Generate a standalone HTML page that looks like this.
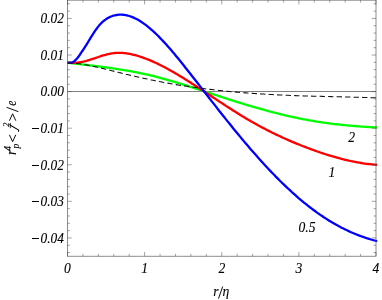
<!DOCTYPE html>
<html><head><meta charset="utf-8"><style>
html,body{margin:0;padding:0;background:#fff;}
svg{display:block;will-change:transform;}
text{font-family:"Liberation Serif",serif;font-style:italic;font-size:13.6px;fill:#000;stroke:#000;stroke-width:0.1px;}
</style></head><body>
<svg width="382" height="300" viewBox="0 0 382 300">
<rect width="382" height="300" fill="#fff"/>
<path d="M67.5,91.5H376.0" stroke="#808080" stroke-width="1" fill="none"/>
<path d="M67.5,62.70 L68.3,62.79 L69.1,62.89 L69.9,62.99 L70.7,63.08 L71.5,63.18 L72.2,63.27 L73.0,63.37 L73.8,63.46 L74.6,63.56 L75.4,63.65 L76.2,63.74 L77.0,63.84 L77.8,63.93 L78.6,64.03 L79.4,64.12 L80.2,64.21 L80.9,64.31 L81.7,64.40 L82.5,64.49 L83.3,64.59 L84.1,64.68 L84.9,64.78 L85.7,64.87 L86.5,64.96 L87.3,65.06 L88.1,65.15 L88.9,65.25 L89.7,65.34 L90.4,65.44 L91.2,65.53 L92.0,65.63 L92.8,65.73 L93.6,65.82 L94.4,65.92 L95.2,66.02 L96.0,66.12 L96.8,66.21 L97.6,66.31 L98.4,66.41 L99.1,66.51 L99.9,66.61 L100.7,66.71 L101.5,66.82 L102.3,66.92 L103.1,67.02 L103.9,67.13 L104.7,67.23 L105.5,67.34 L106.3,67.44 L107.1,67.55 L107.8,67.66 L108.6,67.77 L109.4,67.88 L110.2,67.99 L111.0,68.10 L111.8,68.21 L112.6,68.33 L113.4,68.44 L114.2,68.55 L115.0,68.67 L115.8,68.79 L116.6,68.91 L117.3,69.03 L118.1,69.15 L118.9,69.27 L119.7,69.39 L120.5,69.52 L121.3,69.64 L122.1,69.77 L122.9,69.90 L123.7,70.03 L124.5,70.16 L125.3,70.29 L126.0,70.42 L126.8,70.56 L127.6,70.69 L128.4,70.83 L129.2,70.97 L130.0,71.11 L131.8,71.43 L133.6,71.76 L135.3,72.10 L137.1,72.45 L138.9,72.80 L140.7,73.16 L142.4,73.54 L144.2,73.92 L146.0,74.31 L147.8,74.71 L149.6,75.13 L151.3,75.55 L153.1,75.98 L154.9,76.43 L156.7,76.88 L158.5,77.34 L160.2,77.81 L162.0,78.29 L163.8,78.78 L165.6,79.28 L167.3,79.78 L169.1,80.29 L170.9,80.81 L172.7,81.33 L174.5,81.86 L176.2,82.40 L178.0,82.94 L179.8,83.48 L181.6,84.04 L183.4,84.59 L185.1,85.15 L186.9,85.71 L188.7,86.28 L190.5,86.85 L192.2,87.42 L194.0,88.00 L195.8,88.57 L197.6,89.15 L199.4,89.73 L201.1,90.31 L202.9,90.89 L204.7,91.47 L206.5,92.05 L208.3,92.63 L210.0,93.21 L211.8,93.79 L213.6,94.37 L215.4,94.95 L217.1,95.53 L218.9,96.11 L220.7,96.69 L222.5,97.26 L224.3,97.83 L226.0,98.41 L227.8,98.98 L229.6,99.54 L231.4,100.11 L233.1,100.67 L234.9,101.23 L236.7,101.79 L238.5,102.34 L240.3,102.90 L242.0,103.44 L243.8,103.99 L245.6,104.53 L247.4,105.07 L249.2,105.60 L250.9,106.13 L252.7,106.65 L254.5,107.17 L256.3,107.68 L258.0,108.19 L259.8,108.70 L261.6,109.20 L263.4,109.69 L265.2,110.18 L266.9,110.67 L268.7,111.14 L270.5,111.62 L272.3,112.08 L274.1,112.55 L275.8,113.00 L277.6,113.45 L279.4,113.89 L281.2,114.33 L282.9,114.76 L284.7,115.19 L286.5,115.60 L288.3,116.01 L290.1,116.42 L291.8,116.81 L293.6,117.20 L295.4,117.59 L297.2,117.96 L298.9,118.33 L300.7,118.69 L302.5,119.04 L304.3,119.38 L306.1,119.72 L307.8,120.05 L309.6,120.37 L311.4,120.68 L313.2,120.98 L315.0,121.28 L316.7,121.57 L318.5,121.85 L320.3,122.12 L322.1,122.38 L323.8,122.64 L325.6,122.89 L327.4,123.13 L329.2,123.37 L331.0,123.59 L332.7,123.82 L334.5,124.03 L336.3,124.24 L338.1,124.44 L339.9,124.64 L341.6,124.83 L343.4,125.01 L345.2,125.19 L347.0,125.36 L348.7,125.52 L350.5,125.68 L352.3,125.84 L354.1,125.99 L355.9,126.13 L357.6,126.27 L359.4,126.40 L361.2,126.53 L363.0,126.66 L364.8,126.78 L366.5,126.89 L368.3,127.00 L370.1,127.11 L371.9,127.21 L373.6,127.31 L375.4,127.41 L377.2,127.50" stroke="#00ff00" stroke-width="2.3" fill="none" stroke-linejoin="round"/>
<path d="M67.5,62.76 L68.3,62.77 L69.1,62.78 L69.9,62.79 L70.7,62.80 L71.5,62.81 L72.2,62.80 L73.0,62.79 L73.8,62.78 L74.6,62.75 L75.4,62.71 L76.2,62.66 L77.0,62.60 L77.8,62.52 L78.6,62.43 L79.4,62.33 L80.2,62.21 L80.9,62.09 L81.7,61.95 L82.5,61.80 L83.3,61.63 L84.1,61.46 L84.9,61.27 L85.7,61.07 L86.5,60.86 L87.3,60.65 L88.1,60.42 L88.9,60.18 L89.7,59.93 L90.4,59.68 L91.2,59.42 L92.0,59.16 L92.8,58.89 L93.6,58.62 L94.4,58.35 L95.2,58.08 L96.0,57.80 L96.8,57.53 L97.6,57.26 L98.4,56.99 L99.1,56.73 L99.9,56.47 L100.7,56.21 L101.5,55.96 L102.3,55.71 L103.1,55.47 L103.9,55.24 L104.7,55.02 L105.5,54.80 L106.3,54.59 L107.1,54.39 L107.8,54.20 L108.6,54.02 L109.4,53.85 L110.2,53.69 L111.0,53.54 L111.8,53.41 L112.6,53.28 L113.4,53.18 L114.2,53.08 L115.0,53.00 L115.8,52.93 L116.6,52.88 L117.3,52.85 L118.1,52.82 L118.9,52.82 L119.7,52.82 L120.5,52.84 L121.3,52.87 L122.1,52.91 L122.9,52.97 L123.7,53.04 L124.5,53.12 L125.3,53.21 L126.0,53.31 L126.8,53.42 L127.6,53.55 L128.4,53.68 L129.2,53.82 L130.0,53.98 L131.8,54.35 L133.6,54.77 L135.3,55.23 L137.1,55.73 L138.9,56.26 L140.7,56.83 L142.4,57.43 L144.2,58.06 L146.0,58.73 L147.8,59.42 L149.6,60.15 L151.3,60.90 L153.1,61.67 L154.9,62.48 L156.7,63.31 L158.5,64.16 L160.2,65.03 L162.0,65.93 L163.8,66.85 L165.6,67.78 L167.3,68.74 L169.1,69.71 L170.9,70.70 L172.7,71.71 L174.5,72.73 L176.2,73.77 L178.0,74.83 L179.8,75.89 L181.6,76.97 L183.4,78.06 L185.1,79.17 L186.9,80.28 L188.7,81.40 L190.5,82.53 L192.2,83.67 L194.0,84.82 L195.8,85.97 L197.6,87.13 L199.4,88.29 L201.1,89.46 L202.9,90.63 L204.7,91.80 L206.5,92.98 L208.3,94.16 L210.0,95.33 L211.8,96.51 L213.6,97.69 L215.4,98.87 L217.1,100.04 L218.9,101.22 L220.7,102.39 L222.5,103.56 L224.3,104.72 L226.0,105.88 L227.8,107.03 L229.6,108.18 L231.4,109.32 L233.1,110.46 L234.9,111.59 L236.7,112.70 L238.5,113.82 L240.3,114.92 L242.0,116.01 L243.8,117.09 L245.6,118.15 L247.4,119.21 L249.2,120.26 L250.9,121.29 L252.7,122.30 L254.5,123.31 L256.3,124.30 L258.0,125.28 L259.8,126.25 L261.6,127.20 L263.4,128.14 L265.2,129.07 L266.9,129.98 L268.7,130.89 L270.5,131.78 L272.3,132.66 L274.1,133.53 L275.8,134.39 L277.6,135.23 L279.4,136.07 L281.2,136.89 L282.9,137.70 L284.7,138.50 L286.5,139.30 L288.3,140.08 L290.1,140.85 L291.8,141.61 L293.6,142.36 L295.4,143.10 L297.2,143.83 L298.9,144.55 L300.7,145.26 L302.5,145.96 L304.3,146.65 L306.1,147.34 L307.8,148.01 L309.6,148.68 L311.4,149.34 L313.2,149.98 L315.0,150.62 L316.7,151.25 L318.5,151.87 L320.3,152.48 L322.1,153.08 L323.8,153.67 L325.6,154.25 L327.4,154.81 L329.2,155.37 L331.0,155.91 L332.7,156.44 L334.5,156.96 L336.3,157.46 L338.1,157.96 L339.9,158.43 L341.6,158.90 L343.4,159.35 L345.2,159.78 L347.0,160.20 L348.7,160.61 L350.5,161.00 L352.3,161.38 L354.1,161.73 L355.9,162.08 L357.6,162.40 L359.4,162.71 L361.2,163.00 L363.0,163.27 L364.8,163.53 L366.5,163.77 L368.3,163.99 L370.1,164.19 L371.9,164.37 L373.6,164.53 L375.4,164.67 L377.2,164.79" stroke="#ff0000" stroke-width="2.3" fill="none" stroke-linejoin="round"/>
<path d="M67.5,62.77 L68.3,62.69 L69.1,62.68 L69.9,62.69 L70.7,62.68 L71.5,62.59 L72.2,62.37 L73.0,62.00 L73.8,61.50 L74.6,60.87 L75.4,60.14 L76.2,59.31 L77.0,58.42 L77.8,57.45 L78.6,56.42 L79.4,55.35 L80.2,54.24 L80.9,53.09 L81.7,51.93 L82.5,50.74 L83.3,49.53 L84.1,48.31 L84.9,47.07 L85.7,45.82 L86.5,44.55 L87.3,43.28 L88.1,41.99 L88.9,40.70 L89.7,39.41 L90.4,38.11 L91.2,36.83 L92.0,35.56 L92.8,34.30 L93.6,33.07 L94.4,31.86 L95.2,30.68 L96.0,29.54 L96.8,28.45 L97.6,27.39 L98.4,26.39 L99.1,25.44 L99.9,24.54 L100.7,23.70 L101.5,22.90 L102.3,22.14 L103.1,21.44 L103.9,20.77 L104.7,20.15 L105.5,19.58 L106.3,19.04 L107.1,18.53 L107.8,18.07 L108.6,17.64 L109.4,17.24 L110.2,16.88 L111.0,16.55 L111.8,16.24 L112.6,15.97 L113.4,15.72 L114.2,15.50 L115.0,15.31 L115.8,15.14 L116.6,15.00 L117.3,14.88 L118.1,14.79 L118.9,14.72 L119.7,14.68 L120.5,14.66 L121.3,14.67 L122.1,14.70 L122.9,14.76 L123.7,14.83 L124.5,14.93 L125.3,15.05 L126.0,15.20 L126.8,15.36 L127.6,15.55 L128.4,15.76 L129.2,15.99 L130.0,16.24 L131.8,16.87 L133.6,17.60 L135.3,18.43 L137.1,19.35 L138.9,20.35 L140.7,21.44 L142.4,22.62 L144.2,23.87 L146.0,25.19 L147.8,26.59 L149.6,28.05 L151.3,29.58 L153.1,31.17 L154.9,32.82 L156.7,34.53 L158.5,36.28 L160.2,38.09 L162.0,39.94 L163.8,41.84 L165.6,43.78 L167.3,45.76 L169.1,47.78 L170.9,49.83 L172.7,51.92 L174.5,54.03 L176.2,56.17 L178.0,58.33 L179.8,60.52 L181.6,62.73 L183.4,64.95 L185.1,67.19 L186.9,69.44 L188.7,71.70 L190.5,73.96 L192.2,76.24 L194.0,78.51 L195.8,80.79 L197.6,83.07 L199.4,85.35 L201.1,87.64 L202.9,89.92 L204.7,92.21 L206.5,94.49 L208.3,96.78 L210.0,99.06 L211.8,101.34 L213.6,103.61 L215.4,105.89 L217.1,108.15 L218.9,110.41 L220.7,112.67 L222.5,114.92 L224.3,117.16 L226.0,119.39 L227.8,121.61 L229.6,123.83 L231.4,126.03 L233.1,128.22 L234.9,130.40 L236.7,132.57 L238.5,134.73 L240.3,136.88 L242.0,139.01 L243.8,141.13 L245.6,143.24 L247.4,145.33 L249.2,147.41 L250.9,149.47 L252.7,151.52 L254.5,153.56 L256.3,155.58 L258.0,157.58 L259.8,159.56 L261.6,161.53 L263.4,163.48 L265.2,165.42 L266.9,167.33 L268.7,169.23 L270.5,171.11 L272.3,172.96 L274.1,174.80 L275.8,176.62 L277.6,178.42 L279.4,180.20 L281.2,181.95 L282.9,183.69 L284.7,185.40 L286.5,187.10 L288.3,188.77 L290.1,190.41 L291.8,192.04 L293.6,193.64 L295.4,195.22 L297.2,196.78 L298.9,198.31 L300.7,199.82 L302.5,201.31 L304.3,202.77 L306.1,204.21 L307.8,205.62 L309.6,207.01 L311.4,208.38 L313.2,209.72 L315.0,211.04 L316.7,212.33 L318.5,213.59 L320.3,214.83 L322.1,216.05 L323.8,217.24 L325.6,218.40 L327.4,219.54 L329.2,220.65 L331.0,221.73 L332.7,222.79 L334.5,223.82 L336.3,224.82 L338.1,225.80 L339.9,226.75 L341.6,227.68 L343.4,228.58 L345.2,229.46 L347.0,230.31 L348.7,231.14 L350.5,231.94 L352.3,232.72 L354.1,233.47 L355.9,234.20 L357.6,234.91 L359.4,235.60 L361.2,236.26 L363.0,236.90 L364.8,237.51 L366.5,238.11 L368.3,238.68 L370.1,239.23 L371.9,239.76 L373.6,240.26 L375.4,240.75 L377.2,241.21" stroke="#0000ff" stroke-width="2.3" fill="none" stroke-linejoin="round"/>
<path d="M67.5,62.85 L68.3,62.87 L69.1,62.90 L69.9,62.94 L70.7,62.98 L71.5,63.03 L72.2,63.08 L73.0,63.15 L73.8,63.21 L74.6,63.28 L75.4,63.36 L76.2,63.45 L77.0,63.53 L77.8,63.63 L78.6,63.73 L79.4,63.83 L80.2,63.94 L80.9,64.05 L81.7,64.17 L82.5,64.29 L83.3,64.42 L84.1,64.55 L84.9,64.68 L85.7,64.82 L86.5,64.97 L87.3,65.11 L88.1,65.26 L88.9,65.41 L89.7,65.57 L90.4,65.73 L91.2,65.89 L92.0,66.06 L92.8,66.23 L93.6,66.40 L94.4,66.57 L95.2,66.74 L96.0,66.92 L96.8,67.10 L97.6,67.28 L98.4,67.47 L99.1,67.65 L99.9,67.84 L100.7,68.03 L101.5,68.22 L102.3,68.41 L103.1,68.60 L103.9,68.79 L104.7,68.99 L105.5,69.18 L106.3,69.38 L107.1,69.57 L107.8,69.77 L108.6,69.96 L109.4,70.16 L110.2,70.35 L111.0,70.55 L111.8,70.74 L112.6,70.94 L113.4,71.13 L114.2,71.33 L115.0,71.52 L115.8,71.72 L116.6,71.91 L117.3,72.11 L118.1,72.30 L118.9,72.49 L119.7,72.68 L120.5,72.88 L121.3,73.07 L122.1,73.26 L122.9,73.45 L123.7,73.64 L124.5,73.83 L125.3,74.02 L126.0,74.21 L126.8,74.40 L127.6,74.59 L128.4,74.77 L129.2,74.96 L130.0,75.15 L131.8,75.56 L133.6,75.98 L135.3,76.39 L137.1,76.80 L138.9,77.20 L140.7,77.60 L142.4,78.00 L144.2,78.39 L146.0,78.78 L147.8,79.16 L149.6,79.54 L151.3,79.92 L153.1,80.29 L154.9,80.65 L156.7,81.01 L158.5,81.37 L160.2,81.72 L162.0,82.06 L163.8,82.40 L165.6,82.73 L167.3,83.05 L169.1,83.38 L170.9,83.69 L172.7,84.00 L174.5,84.31 L176.2,84.61 L178.0,84.90 L179.8,85.19 L181.6,85.47 L183.4,85.75 L185.1,86.03 L186.9,86.30 L188.7,86.56 L190.5,86.82 L192.2,87.08 L194.0,87.33 L195.8,87.58 L197.6,87.82 L199.4,88.06 L201.1,88.29 L202.9,88.52 L204.7,88.74 L206.5,88.96 L208.3,89.18 L210.0,89.39 L211.8,89.60 L213.6,89.81 L215.4,90.01 L217.1,90.21 L218.9,90.40 L220.7,90.59 L222.5,90.77 L224.3,90.96 L226.0,91.13 L227.8,91.31 L229.6,91.48 L231.4,91.65 L233.1,91.81 L234.9,91.97 L236.7,92.13 L238.5,92.28 L240.3,92.43 L242.0,92.58 L243.8,92.72 L245.6,92.86 L247.4,93.00 L249.2,93.14 L250.9,93.27 L252.7,93.39 L254.5,93.52 L256.3,93.64 L258.0,93.76 L259.8,93.87 L261.6,93.99 L263.4,94.09 L265.2,94.20 L266.9,94.31 L268.7,94.41 L270.5,94.50 L272.3,94.60 L274.1,94.69 L275.8,94.78 L277.6,94.87 L279.4,94.95 L281.2,95.04 L282.9,95.12 L284.7,95.19 L286.5,95.27 L288.3,95.34 L290.1,95.41 L291.8,95.48 L293.6,95.54 L295.4,95.61 L297.2,95.67 L298.9,95.73 L300.7,95.79 L302.5,95.85 L304.3,95.90 L306.1,95.96 L307.8,96.01 L309.6,96.06 L311.4,96.11 L313.2,96.16 L315.0,96.21 L316.7,96.26 L318.5,96.30 L320.3,96.35 L322.1,96.39 L323.8,96.44 L325.6,96.48 L327.4,96.53 L329.2,96.57 L331.0,96.61 L332.7,96.65 L334.5,96.69 L336.3,96.74 L338.1,96.78 L339.9,96.82 L341.6,96.86 L343.4,96.90 L345.2,96.95 L347.0,96.99 L348.7,97.03 L350.5,97.08 L352.3,97.12 L354.1,97.17 L355.9,97.21 L357.6,97.26 L359.4,97.31 L361.2,97.36 L363.0,97.41 L364.8,97.46 L366.5,97.51 L368.3,97.57 L370.1,97.62 L371.9,97.68 L373.6,97.74 L375.4,97.80 L377.2,97.86" stroke="#111" stroke-width="1.05" stroke-dasharray="5.3 3.2" fill="none"/>
<rect x="67.5" y="0.15" width="308.5" height="256.05" fill="none" stroke="#505050" stroke-width="0.65"/>
<path d="M67.50,256.2v-4.3M67.50,0.15v4.3M82.92,256.2v-2.4M82.92,0.15v2.4M98.35,256.2v-2.4M98.35,0.15v2.4M113.78,256.2v-2.4M113.78,0.15v2.4M129.20,256.2v-2.4M129.20,0.15v2.4M144.62,256.2v-4.3M144.62,0.15v4.3M160.05,256.2v-2.4M160.05,0.15v2.4M175.48,256.2v-2.4M175.48,0.15v2.4M190.90,256.2v-2.4M190.90,0.15v2.4M206.33,256.2v-2.4M206.33,0.15v2.4M221.75,256.2v-4.3M221.75,0.15v4.3M237.18,256.2v-2.4M237.18,0.15v2.4M252.60,256.2v-2.4M252.60,0.15v2.4M268.02,256.2v-2.4M268.02,0.15v2.4M283.45,256.2v-2.4M283.45,0.15v2.4M298.88,256.2v-4.3M298.88,0.15v4.3M314.30,256.2v-2.4M314.30,0.15v2.4M329.73,256.2v-2.4M329.73,0.15v2.4M345.15,256.2v-2.4M345.15,0.15v2.4M360.58,256.2v-2.4M360.58,0.15v2.4M376.00,256.2v-4.3M376.00,0.15v4.3M67.5,252.55h2.4M376.0,252.55h-2.4M67.5,245.24h2.4M376.0,245.24h-2.4M67.5,237.92h4.3M376.0,237.92h-4.3M67.5,230.60h2.4M376.0,230.60h-2.4M67.5,223.29h2.4M376.0,223.29h-2.4M67.5,215.97h2.4M376.0,215.97h-2.4M67.5,208.66h2.4M376.0,208.66h-2.4M67.5,201.34h4.3M376.0,201.34h-4.3M67.5,194.02h2.4M376.0,194.02h-2.4M67.5,186.71h2.4M376.0,186.71h-2.4M67.5,179.39h2.4M376.0,179.39h-2.4M67.5,172.08h2.4M376.0,172.08h-2.4M67.5,164.76h4.3M376.0,164.76h-4.3M67.5,157.44h2.4M376.0,157.44h-2.4M67.5,150.13h2.4M376.0,150.13h-2.4M67.5,142.81h2.4M376.0,142.81h-2.4M67.5,135.50h2.4M376.0,135.50h-2.4M67.5,128.18h4.3M376.0,128.18h-4.3M67.5,120.86h2.4M376.0,120.86h-2.4M67.5,113.55h2.4M376.0,113.55h-2.4M67.5,106.23h2.4M376.0,106.23h-2.4M67.5,98.92h2.4M376.0,98.92h-2.4M67.5,91.60h4.3M376.0,91.60h-4.3M67.5,84.28h2.4M376.0,84.28h-2.4M67.5,76.97h2.4M376.0,76.97h-2.4M67.5,69.65h2.4M376.0,69.65h-2.4M67.5,62.34h2.4M376.0,62.34h-2.4M67.5,55.02h4.3M376.0,55.02h-4.3M67.5,47.70h2.4M376.0,47.70h-2.4M67.5,40.39h2.4M376.0,40.39h-2.4M67.5,33.07h2.4M376.0,33.07h-2.4M67.5,25.76h2.4M376.0,25.76h-2.4M67.5,18.44h4.3M376.0,18.44h-4.3M67.5,11.12h2.4M376.0,11.12h-2.4M67.5,3.81h2.4M376.0,3.81h-2.4" stroke="#484848" stroke-width="0.5" fill="none"/>
<text transform="translate(64,23.0) scale(0.985,1)" text-anchor="end">0.02</text>
<text transform="translate(64,60.0) scale(0.985,1)" text-anchor="end">0.01</text>
<text transform="translate(64,96.0) scale(0.985,1)" text-anchor="end">0.00</text>
<text transform="translate(64,133.0) scale(0.985,1)" text-anchor="end">0.01</text>
<path d="M32,128.5H39" stroke="#000" stroke-width="1" fill="none"/>
<text transform="translate(64,170.0) scale(0.985,1)" text-anchor="end">0.02</text>
<path d="M32,165.5H39" stroke="#000" stroke-width="1" fill="none"/>
<text transform="translate(64,206.0) scale(0.985,1)" text-anchor="end">0.03</text>
<path d="M32,201.5H39" stroke="#000" stroke-width="1" fill="none"/>
<text transform="translate(64,243.0) scale(0.985,1)" text-anchor="end">0.04</text>
<path d="M32,238.5H39" stroke="#000" stroke-width="1" fill="none"/>
<text x="67.5" y="272.5" text-anchor="middle">0</text>
<text x="144.6" y="272.5" text-anchor="middle">1</text>
<text x="221.8" y="272.5" text-anchor="middle">2</text>
<text x="298.9" y="272.5" text-anchor="middle">3</text>
<text x="376.0" y="272.5" text-anchor="middle">4</text>

<text x="351.6" y="141.5" text-anchor="middle">2</text>
<text x="331.8" y="177" text-anchor="middle">1</text>
<text x="307" y="232.2" text-anchor="middle">0.5</text>
<text x="213.2" y="295.9">r</text>
<text x="222.4" y="295.9">&#951;</text>
<path d="M222.7,286.5L218.5,298.6" stroke="#000" stroke-width="0.95" fill="none"/>
<g transform="translate(16,155) rotate(-90)">
<text x="0" y="0">r</text>
<text x="6.4" y="2.8" style="font-size:9.5px">p</text>
<text x="4.2" y="-5.5" style="font-size:9.5px">4</text>
<text x="28.3" y="-7.1" style="font-size:8.2px">2</text>
<text transform="translate(49.2,0) scale(0.84,1)">e</text>
</g>
<g fill="none" stroke="#000" stroke-width="0.95" stroke-linecap="butt" stroke-linejoin="miter">
<path d="M9.4,134.8L12.6,141.7L15.8,134.8"/>
<path d="M9.4,120.7L12.6,113.8L15.8,120.7"/>
<path d="M6.6,107.3L18.4,111.7"/>
<path d="M9.6,124.2Q9.7,124.9 10.4,125.3L18.3,129.9Q19.2,130.5 18.4,131.7" stroke-width="1.05"/>
<path d="M10.3,122.9V128.1" stroke-width="0.8"/>
</g>
</svg>
</body></html>
